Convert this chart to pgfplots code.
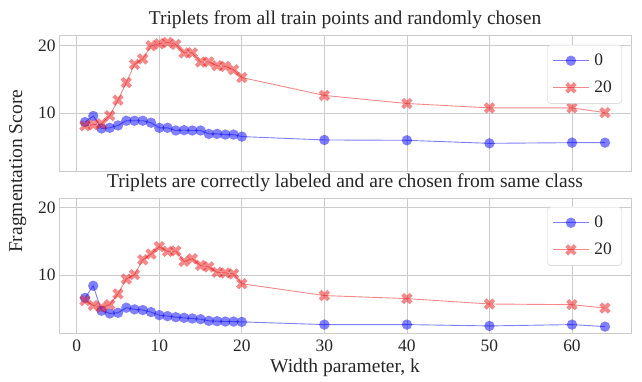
\documentclass[border=0pt]{standalone}
\usepackage{pgfplots}
\pgfplotsset{compat=1.18}
\usepackage{pgfplotstable}
\usepackage{fontspec}
\setmainfont{Liberation Serif}
\definecolor{gridc}{HTML}{CCCCCC}
\definecolor{txt}{HTML}{262626}
\definecolor{bl}{RGB}{0,0,255}
\definecolor{rd}{RGB}{235,20,20}

\pgfdeclareplotmark{Xfill}{%
  \pgftransformrotate{45}%
  \pgfpathmoveto{\pgfqpoint{-0.3333\pgfplotmarksize}{-\pgfplotmarksize}}%
  \pgfpathlineto{\pgfqpoint{0.3333\pgfplotmarksize}{-\pgfplotmarksize}}%
  \pgfpathlineto{\pgfqpoint{0.3333\pgfplotmarksize}{-0.3333\pgfplotmarksize}}%
  \pgfpathlineto{\pgfqpoint{\pgfplotmarksize}{-0.3333\pgfplotmarksize}}%
  \pgfpathlineto{\pgfqpoint{\pgfplotmarksize}{0.3333\pgfplotmarksize}}%
  \pgfpathlineto{\pgfqpoint{0.3333\pgfplotmarksize}{0.3333\pgfplotmarksize}}%
  \pgfpathlineto{\pgfqpoint{0.3333\pgfplotmarksize}{\pgfplotmarksize}}%
  \pgfpathlineto{\pgfqpoint{-0.3333\pgfplotmarksize}{\pgfplotmarksize}}%
  \pgfpathlineto{\pgfqpoint{-0.3333\pgfplotmarksize}{0.3333\pgfplotmarksize}}%
  \pgfpathlineto{\pgfqpoint{-\pgfplotmarksize}{0.3333\pgfplotmarksize}}%
  \pgfpathlineto{\pgfqpoint{-\pgfplotmarksize}{-0.3333\pgfplotmarksize}}%
  \pgfpathlineto{\pgfqpoint{-0.3333\pgfplotmarksize}{-0.3333\pgfplotmarksize}}%
  \pgfpathclose
  \pgfusepathqfill
}
\pgfdeclareplotmark{cfill}{%
  \pgfpathcircle{\pgfpointorigin}{\pgfplotmarksize}%
  \pgfusepathqfill
}

\pgfplotstableread{
k blue red
1 8.65 8.1
2 9.55 8.25
3 7.7 8.4
4 7.8 9.6
5 8.15 11.9
6 8.85 14.5
7 8.85 17.2
8 8.85 18.0
9 8.55 19.95
10 7.8 20.25
11 7.8 20.45
12 7.4 20.15
13 7.45 18.9
14 7.4 18.9
15 7.4 17.55
16 6.9 17.55
17 6.9 17.0
18 6.8 16.9
19 6.8 16.4
20 6.5 15.25
30 6.0 12.6
40 5.95 11.4
50 5.5 10.75
60 5.6 10.75
64 5.6 10.05
}\toptable

\pgfplotstableread{
k blue red
1 6.6 6.2
2 8.4 5.5
3 4.7 5.2
4 4.3 5.6
5 4.4 7.2
6 5.15 9.4
7 4.9 10.05
8 4.8 12.25
9 4.5 13.1
10 4.05 14.2
11 3.9 13.5
12 3.75 13.55
13 3.65 12.0
14 3.55 12.4
15 3.45 11.4
16 3.2 11.2
17 3.15 10.4
18 3.1 10.3
19 3.1 10.15
20 3.05 8.7
30 2.65 6.95
40 2.65 6.5
50 2.45 5.7
60 2.65 5.6
64 2.35 5.1
}\bottable

\pgfplotsset{
  myaxis/.style={
    width=572bp, height=135.7bp, scale only axis,
    xmin=-2.15, xmax=67.15, ymin=1.3, ymax=21.4,
    xtick={0,10,...,60}, ytick={10,20},
    grid=major, major grid style={gridc, line width=0.8bp},
    axis line style={gridc, line width=1bp},
    major tick length=0pt, tick style={draw=none},
    tick label style={font=\fontsize{17.5}{17.5}\selectfont, text=txt},
    /pgf/number format/assume math mode=true,
    title style={at={(0.5,1)}, anchor=base, yshift=6bp, font=\fontsize{19.6}{19.6}\selectfont, text=txt},
    legend style={at={(1,1)}, anchor=north east, xshift=-9bp, yshift=-9bp,
      draw=gridc, rounded corners=3bp, fill=white,
      font=\fontsize{17.5}{17.5}\selectfont, text=txt,
      row sep=10bp, inner xsep=5bp, inner ysep=7bp,
      nodes={inner xsep=5bp, inner ysep=2bp}},
    legend cell align=left,
    legend image code/.code={\draw[mark repeat=2,mark phase=2] plot coordinates {(0bp,0bp)(18bp,0bp)(36bp,0bp)};},
  },
  blueplot/.style={color=bl, line width=0.9bp, opacity=0.5, mark=cfill, mark size=5.2bp, mark options={fill=bl}},
  redplot/.style={color=rd, line width=0.9bp, opacity=0.5, mark=Xfill, mark size=6bp, mark options={fill=rd}},
}

\begin{document}
\begin{tikzpicture}
\useasboundingbox (0,0) rectangle (642bp,382bp);
\begin{axis}[myaxis, at={(59bp,210.3bp)}, anchor=south west,
  xticklabels={},
  title={Triplets from all train points and randomly chosen}]
\addplot[blueplot] table[x=k, y=blue] {\toptable};
\addlegendentry{0}
\addplot[redplot] table[x=k, y=red] {\toptable};
\addlegendentry{20}
\end{axis}
\begin{axis}[myaxis, at={(59bp,48.3bp)}, anchor=south west,
  xticklabel style={yshift=-3bp},
  title style={yshift=-1bp},
  title={Triplets are correctly labeled and are chosen from same class},
  xlabel={Width parameter, k},
  xlabel style={at={(axis description cs:0.5,0)}, anchor=base, yshift=-38.6bp, font=\fontsize{19.6}{19.6}\selectfont, text=txt}]
\addplot[blueplot] table[x=k, y=blue] {\bottable};
\addlegendentry{0}
\addplot[redplot] table[x=k, y=red] {\bottable};
\addlegendentry{20}
\end{axis}
\node[rotate=90, anchor=base, font=\fontsize{19.6}{19.6}\selectfont, text=txt] at (22bp,210.7bp) {Fragmentation Score};
\end{tikzpicture}
\end{document}
